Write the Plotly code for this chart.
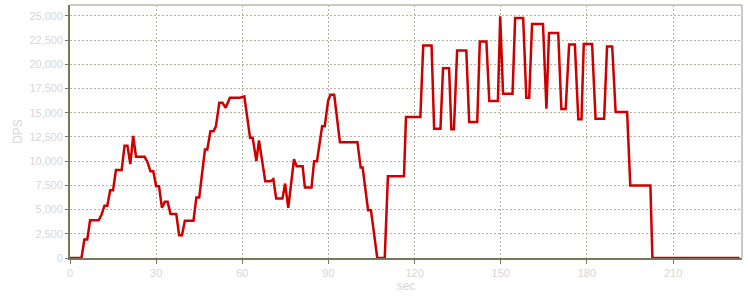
import plotly.graph_objects as go

sec = [0, 4, 5, 6, 7, 10, 11, 12, 13, 14, 15, 16, 18, 19, 20, 21, 22, 23, 26, 27,
       28, 29, 30, 31, 32, 33, 34, 35, 37, 38, 39, 40, 43, 44, 45, 47, 47.8, 48.9, 50, 50.8,
       52, 53.1, 54.2, 55.7, 59.2, 60.7, 62.7, 63.6, 64.9, 65.8, 68, 69.8, 70.8, 71.8, 74, 74.9,
       76, 78, 78.9, 81, 81.8, 84.1, 85, 86, 87.8, 88.7, 89.9, 90.7, 92, 94,
       100.1, 101.2, 101.9, 103.8, 104.8, 107, 109.6, 110.7, 116.3, 117,
       122, 123, 125.9, 126.8, 129, 129.9, 132, 132.8, 133.7, 134.8, 138, 139, 141.8, 142.7,
       145, 146, 149, 149.8, 150.8, 154.1, 155, 157.8, 158.9, 159.9, 160.9, 164.7, 165.9, 166.8,
       170, 171.1, 172.6, 173.8, 175.8, 177, 178.1, 178.9, 181.8, 183, 186, 187, 188.8, 190,
       194, 195.1, 202.1, 202.8, 233.2]
dps = [0, 0, 1900, 1900, 3900, 3900, 4500, 5400, 5400, 7000, 7000, 9100, 9100, 11600, 11600, 9700, 12600, 10450, 10450, 9900,
       8950, 8950, 7400, 7400, 5200, 5800, 5800, 4550, 4550, 2350, 2350, 3850, 3850, 6250, 6250, 11200, 11200, 13080, 13080, 13600,
       16040, 16040, 15520, 16550, 16550, 16690, 12430, 12430, 10020, 12150, 7930, 7930, 8140, 6150, 6150, 7690,
       5180, 10200, 9480, 9480, 7280, 7280, 9990, 9990, 13600, 13600, 16275, 16860, 16860, 11950,
       11950, 9340, 9340, 4940, 4940, 0, 0, 8450, 8450, 14560,
       14560, 21940, 21940, 13360, 13360, 19600, 19600, 13290, 13290, 21430, 21430, 14040, 14040, 22350,
       22350, 16210, 16210, 24960, 16960, 16960, 24790, 24790, 16550, 16550, 24170, 24170, 15420, 23240,
       23240, 15380, 15380, 22040, 22040, 14320, 14320, 22110, 22110, 14390, 14390, 21840, 21840, 15070,
       15070, 7490, 7490, 0, 0]

x_ticks = [0, 30, 60, 90, 120, 150, 180, 210]
y_ticks = [0, 2500, 5000, 7500, 10000, 12500, 15000, 17500, 20000, 22500, 25000]

fig = go.Figure()
fig.add_trace(go.Scatter(x=sec, y=dps, mode="lines",
                         line=dict(color="#cc0000", width=2.5), hoverinfo="skip"))

FONT = "Liberation Sans, Arial, sans-serif"
tickfont = dict(family=FONT, size=11, color="#d6d6d6")
titlefont = dict(family=FONT, size=12, color="#d6d6d6")
grid = "#b4b4a2"
axis = "#77775a"

fig.update_layout(
    width=750, height=300,
    margin=dict(l=70, r=8, t=5, b=42),
    paper_bgcolor="white", plot_bgcolor="white",
    showlegend=False,
    xaxis=dict(range=[0, 234], tickvals=x_ticks, showgrid=True, gridcolor=grid,
               griddash="2px,2px", gridwidth=1, showline=True, linecolor=axis, linewidth=1.5,
               ticks="outside", ticklen=4, tickcolor=axis, tickfont=tickfont, zeroline=False,
               title=dict(text="sec", font=titlefont, standoff=4)),
    yaxis=dict(range=[0, 26130], tickvals=y_ticks, tickformat=",d", showgrid=True, gridcolor=grid,
               griddash="2px,2px", gridwidth=1, showline=True, linecolor=axis, linewidth=1.5,
               ticks="outside", ticklen=3, tickcolor=axis, tickfont=tickfont, zeroline=False,
               title=dict(text="DPS", font=titlefont, standoff=4)),
    shapes=[
        dict(type="line", xref="paper", yref="paper", x0=0, x1=1, y0=1, y1=1,
             line=dict(color="#b8b8a8", width=1.5)),
        dict(type="line", xref="paper", yref="paper", x0=1, x1=1, y0=0, y1=1,
             line=dict(color="#b8b8a8", width=1.5)),
    ],
)

fig.write_html("out.html")
